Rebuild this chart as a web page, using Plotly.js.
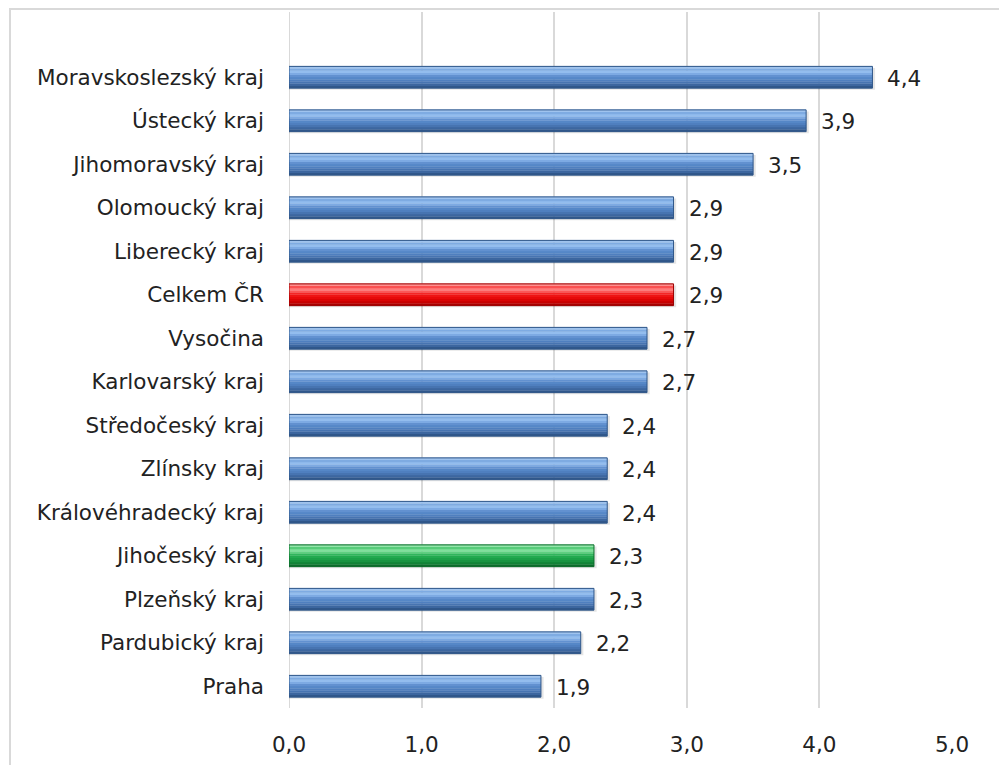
<!DOCTYPE html>
<html><head><meta charset="utf-8">
<script src="https://cdn.plot.ly/plotly-3.0.1.min.js"></script>
<style>body{margin:0;background:#fff}#c{width:999px;height:765px}</style>
</head><body><div id="c"></div>
<script>
// Data (bottom to top)
const categories = ["Praha","Pardubický kraj","Plzeňský kraj","Jihočeský kraj","Královéhradecký kraj","Zlínsky kraj","Středočeský kraj","Karlovarský kraj","Vysočina","Celkem ČR","Liberecký kraj","Olomoucký kraj","Jihomoravský kraj","Ústecký kraj","Moravskoslezský kraj"];
const values = [1.9,2.2,2.3,2.3,2.4,2.4,2.4,2.7,2.7,2.9,2.9,2.9,3.5,3.9,4.4];
const valueLabels = ["1,9","2,2","2,3","2,3","2,4","2,4","2,4","2,7","2,7","2,9","2,9","2,9","3,5","3,9","4,4"];
const xTicks = [0,1,2,3,4,5];
const xTickLabels = ["0,0","1,0","2,0","3,0","4,0","5,0"];

const pos = categories.map((_, i) => i);
function kind(c){ return c === "Celkem ČR" ? "red" : (c === "Jihočeský kraj" ? "green" : "blue"); }

// gradient bands, bottom -> top
const grad = {
  blue:  ["#30578A","#3C669F","#4774B1","#4F7FBF","#5587C7","#6291D0","#7DAAE3","#93BDEE","#7EABE2","#9FC3EE"],
  red:   ["#A80000","#C60000","#DA0404","#E60A0A","#EE1414","#F42626","#FB5858","#FF7C7C","#FA5050","#FF9090"],
  green: ["#0B6B2A","#118236","#179340","#1CA048","#22AA4F","#30B65C","#5ED080","#80E09C","#58CC7A","#92E6AA"]
};
const lineCol = {blue:"#2F5688", red:"#9A0000", green:"#0B6B2A"};
const nb = 10, bw = 0.5 / nb;

const traces = [
  {type:"bar", orientation:"h", x:values.map(v=>v+0.02), y:pos.map(p=>p-0.04), width:0.5, marker:{color:"rgba(0,0,0,0.10)"}, hoverinfo:"skip"}
];
for (let b = 0; b < nb; b++) {
  traces.push({type:"bar", orientation:"h", x:values, y:pos, offset:-0.25 + b*bw, width:bw + 0.006,
    marker:{color:categories.map(c => grad[kind(c)][b]), line:{width:0}}, hoverinfo:"skip"});
}
traces.push({type:"bar", orientation:"h", x:values, y:pos, width:0.5,
  marker:{color:"rgba(0,0,0,0)", line:{color:categories.map(c=>lineCol[kind(c)]), width:1}}, hoverinfo:"skip"});

const annotations = values.map((v, i) => ({
  x: v, y: pos[i], xref:"x", yref:"y", text: valueLabels[i], showarrow:false,
  xanchor:"left", yanchor:"middle", xshift:13, yshift:-1,
  font:{family:"DejaVu Sans, sans-serif", size:21.5, color:"#222"}
}));

const layout = {
  width:999, height:765,
  margin:{l:289, r:47, t:12, b:57},
  paper_bgcolor:"#fff", plot_bgcolor:"#fff",
  barmode:"overlay", showlegend:false,
  font:{family:"DejaVu Sans, sans-serif", size:21.5, color:"#222"},
  xaxis:{range:[0,5], tickvals:xTicks, ticktext:xTickLabels, showgrid:true, gridcolor:"#D9D9D9", gridwidth:2,
         zeroline:false, showline:false, ticks:"", ticklabelstandoff:21, tickfont:{size:21.5, color:"#222"}, fixedrange:true},
  yaxis:{range:[-0.5,15.5], tickvals:pos, ticktext:categories, showgrid:false, zeroline:false, showline:false,
         ticks:"", ticklabelstandoff:24, tickfont:{size:21.5, color:"#222"}, fixedrange:true},
  shapes:[
    {type:"line", xref:"x", yref:"paper", x0:0, x1:0, y0:0, y1:1, line:{color:"#D9D9D9", width:2}, layer:"below"},
    {type:"rect", xref:"paper", yref:"paper", x0:-0.4208, x1:1.2, y0:-0.2, y1:1.0043, line:{color:"#D9D9D9", width:2}, fillcolor:"rgba(0,0,0,0)"}
  ],
  annotations: annotations
};
Plotly.newPlot("c", traces, layout, {displayModeBar:false, staticPlot:true});
</script></body></html>
